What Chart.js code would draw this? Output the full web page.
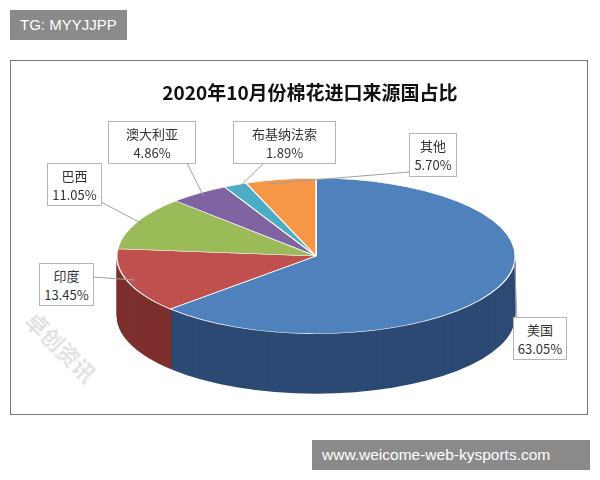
<!DOCTYPE html>
<html>
<head>
<meta charset="utf-8">
<script src="https://cdn.jsdelivr.net/npm/chart.js@4"></script>
<style>
  body { margin: 0; background: #fff; font-family: "Noto Sans CJK SC", sans-serif; }
  #wrap { position: relative; width: 600px; height: 480px; }
  #myChart { position: absolute; left: 0; top: 0; }
  .tag { position: absolute; background: #8a8a8a; color: #fff; font-family: "Liberation Sans", Arial, sans-serif; font-size: 15px; line-height: 30px; padding: 0 10px; }
  .frame { position: absolute; left: 10px; top: 60px; width: 578px; height: 355px; border: 1px solid #777; box-sizing: border-box; }
  .title { position: absolute; left: 10px; width: 600px; top: 78px; text-align: center; font-size: 19px; font-weight: bold; color: #111; }
  .lbl { position: absolute; background: #fff; border: 1px solid #b5b5b5; font-size: 13px; line-height: 19px; color: #333; text-align: center; box-sizing: border-box; padding-top: 2px; }
  .wm { position: absolute; left: 18px; top: 330px; transform: rotate(45deg); color: rgba(0,0,0,0.12); font-size: 22px; font-weight: bold; }
</style>
</head>
<body>
<div id="wrap">
  <div class="frame"></div>
  <canvas id="myChart" width="600" height="480"></canvas>
  <div class="tag" style="left:10px;top:10px;">TG: MYYJJPP</div>
  <div class="tag" style="left:312px;top:440px;width:258px;font-size:15.5px;">www.weicome-web-kysports.com</div>
  <div class="title">2020年10月份棉花进口来源国占比</div>
  <div class="wm">卓创资讯</div>
</div>
<script>
// 資料類別
var categories = ['美国', '印度', '巴西', '澳大利亚', '布基纳法索', '其他'];
// 數據 (%)
var shares = [63.05, 13.45, 11.05, 4.86, 1.89, 5.70];
var colors = ['#4f81bd', '#c0504d', '#9bbb59', '#8064a2', '#4bacc6', '#f79646'];
var sideColors = ['#2c4a74', '#7d2f2d', '#637a36', '#4f3b68', '#2a7386', '#a8612a'];
// 標籤框位置
var boxes = [
  { x: 513, y: 317, w: 54, h: 43, ax: 517, ay: 320 },
  { x: 39, y: 263, w: 55, h: 43, ax: 93, ay: 277 },
  { x: 47, y: 163, w: 55, h: 43, ax: 101, ay: 202 },
  { x: 108, y: 121, w: 88, h: 43, ax: 187, ay: 163 },
  { x: 233, y: 121, w: 103, h: 43, ax: 264, ay: 163 },
  { x: 409, y: 133, w: 48, h: 44, ax: 409, ay: 172 }
];

var SQUASH = 0.39, DEPTH = 60;

var wrap = document.getElementById('wrap');
categories.forEach(function (c, i) {
  var b = boxes[i];
  var d = document.createElement('div');
  d.className = 'lbl';
  d.style.left = b.x + 'px'; d.style.top = b.y + 'px';
  d.style.width = b.w + 'px'; d.style.height = b.h + 'px';
  d.innerHTML = c + '<br>' + shares[i].toFixed(2) + '%';
  wrap.appendChild(d);
});

function squash(ctx, arc) {
  ctx.translate(arc.x, arc.y);
  ctx.scale(1, SQUASH);
  ctx.translate(-arc.x, -arc.y);
}

var pie3d = {
  id: 'pie3d',
  beforeDatasetsDraw: function (chart) {
    var ctx = chart.ctx;
    var arcs = chart.getDatasetMeta(0).data;
    // 側面
    for (var off = DEPTH; off > 0; off--) {
      arcs.forEach(function (a, i) {
        ctx.save();
        ctx.translate(0, off);
        squash(ctx, a);
        ctx.beginPath();
        ctx.moveTo(a.x, a.y);
        ctx.arc(a.x, a.y, a.outerRadius, a.startAngle, a.endAngle);
        ctx.closePath();
        ctx.fillStyle = sideColors[i];
        ctx.fill();
        ctx.restore();
      });
    }
    ctx.save();
    squash(ctx, arcs[0]);
  },
  afterDatasetsDraw: function (chart) {
    var ctx = chart.ctx;
    ctx.restore();
    // 引線
    var arcs = chart.getDatasetMeta(0).data;
    ctx.save();
    ctx.strokeStyle = '#a0a0a0';
    ctx.lineWidth = 1;
    arcs.forEach(function (a, i) {
      var m = (a.startAngle + a.endAngle) / 2;
      if (i === 0) m = 0.08;
      if (i === 5) m = a.startAngle + 0.1;
      var r = a.outerRadius * (i === 0 ? 1.0 : 0.96);
      var px = a.x + r * Math.cos(m), py = a.y + r * SQUASH * Math.sin(m);
      ctx.beginPath();
      ctx.moveTo(boxes[i].ax, boxes[i].ay);
      ctx.lineTo(px, py);
      ctx.stroke();
    });
    ctx.restore();
  }
};

var ctx = document.getElementById('myChart').getContext('2d');
var chart = new Chart(ctx, {
  type: 'pie',
  data: {
    labels: categories,
    datasets: [{
      data: shares,
      backgroundColor: colors,
      borderColor: '#ffffff',
      borderWidth: 1.5
    }]
  },
  options: {
    responsive: false,
    animation: false,
    layout: { padding: { left: 116, right: 84, top: 56, bottom: 24 } },
    plugins: { legend: { display: false }, tooltip: { enabled: false } }
  },
  plugins: [pie3d]
});
</script>
</body>
</html>
